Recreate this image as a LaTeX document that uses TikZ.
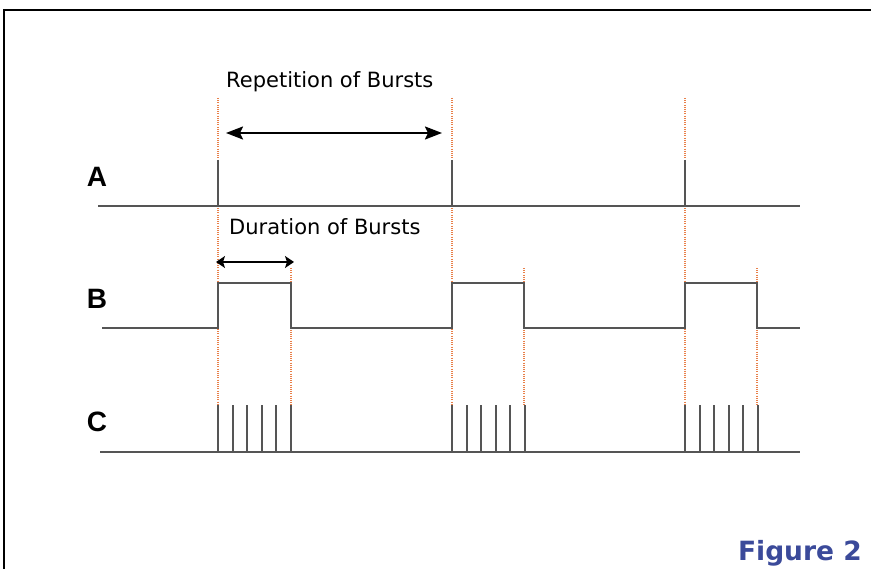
\documentclass[tikz,border=0pt]{standalone}
\usepackage{fontspec}
\setmainfont{DejaVu Sans}
\newfontfamily\labfont{Liberation Sans}
\newfontfamily\tahfont{DejaVu Sans}
\usetikzlibrary{arrows.meta}
\definecolor{sig}{HTML}{555555}
\definecolor{guidecol}{HTML}{E8804A}
\definecolor{figcol}{HTML}{3B4A9A}
\begin{document}
\begin{tikzpicture}[x=1pt,y=-1pt,
  signal/.style={draw=sig,line width=1.6pt},
  guide/.style={draw=guidecol,line width=1.1pt,dash pattern=on 1pt off 1.2pt},
  measurelong/.style={draw=black,line width=2pt,{Stealth[length=17pt,width=13pt,inset=3pt]}-{Stealth[length=17pt,width=13pt,inset=3pt]}},
  measureshort/.style={draw=black,line width=2pt,{Stealth[length=9pt,width=12pt,inset=2pt]}-{Stealth[length=9pt,width=12pt,inset=2pt]}},
  chan/.style={font=\labfont\bfseries\fontsize{28}{28}\selectfont,anchor=base,inner sep=0pt},
  caption/.style={font=\tahfont\fontsize{21}{21}\selectfont,anchor=base west,inner sep=0pt},
  figlabel/.style={font=\bfseries\fontsize{26.5}{26.5}\selectfont,text=figcol,anchor=base east,inner sep=0pt}]
\useasboundingbox (0,0) rectangle (871,569);
\draw[line width=2.8pt] (4,569) -- (4,10) -- (871,10);
% guides
\foreach \x in {218,452,685} \draw[guide] (\x,98) -- (\x,405);
\foreach \x in {291,524,757} \draw[guide] (\x,268) -- (\x,405);
% A
\draw[signal] (98,206) -- (800,206);
\foreach \x in {218,452,685} \draw[signal] (\x,206) -- (\x,160);
% B
\draw[signal] (102,328) -| (218,283) -| (291,328) -| (452,283) -| (524,328) -| (685,283) -| (757,328) -- (800,328);
% C
\draw[signal] (100,452) -- (800,452);
\foreach \x in {218,452,685} \foreach \k in {0,15,29,44,58,73} \draw[signal] (\x+\k,452) -- (\x+\k,405);
% labels
\node[chan] (lblA) at (97,187) {A};
\node[chan] (lblB) at (97,309) {B};
\node[chan] (lblC) at (97,432) {C};
\node[caption] (rep) at (226,88) {Repetition of Bursts};
\node[caption] (dur) at (229,235) {Duration of Bursts};
\node[figlabel] (fig) at (862,560) {Figure 2};
% arrows
\coordinate (repL) at (226,133);
\coordinate (repR) at (442,133);
\draw[measurelong] (repL) -- (repR);
\coordinate (durL) at (216,262);
\coordinate (durR) at (294,262);
\draw[measureshort] (durL) -- (durR);
\end{tikzpicture}
\end{document}
